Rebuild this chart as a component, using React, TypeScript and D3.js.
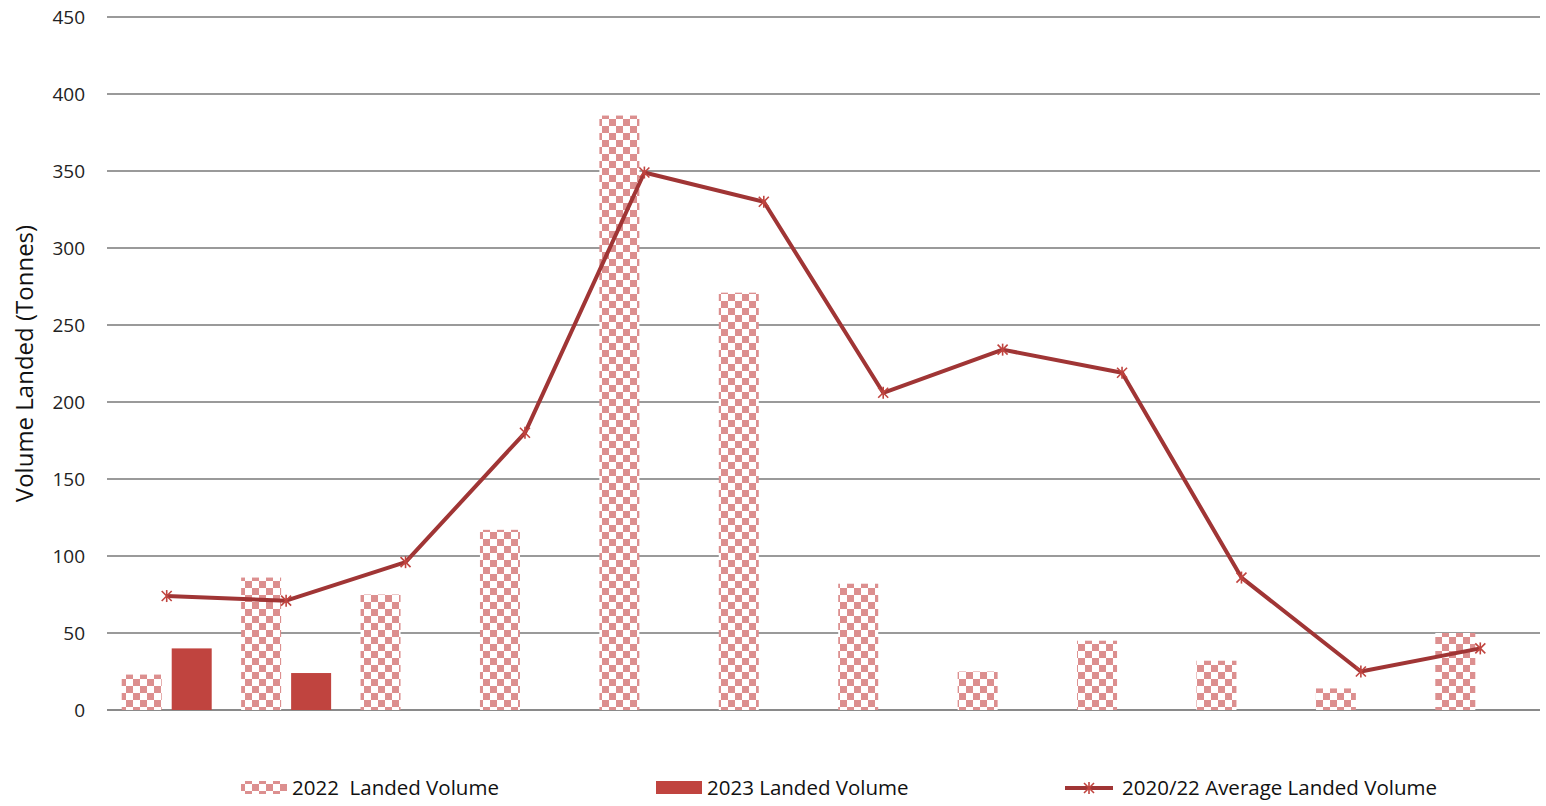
import * as d3 from 'd3';

const months = ['1', '2', '3', '4', '5', '6', '7', '8', '9', '10', '11', '12'];
const landed2022 = [23, 86, 75, 117, 386, 271, 82, 25, 45, 32, 14, 50];
const landed2023: (number | null)[] = [40, 24, null, null, null, null, null, null, null, null, null, null];
const avg2020to22 = [74, 71, 96, 180, 349, 330, 206, 234, 219, 86, 25, 40];
const yTicks = [0, 50, 100, 150, 200, 250, 300, 350, 400, 450];

const W = 1546;
const H = 806;
const margin = { left: 107, right: 6, top: 17, bottom: 96 };

const pink = '#dc8f8f';
const solid = '#c0443f';
const lineColor = '#a03535';
const grid = '#9a9a9a';
const font = "'Open Sans', 'Noto Sans', sans-serif";

function Star({ x, y }: { x: number; y: number }) {
  const r = 5;
  return (
    <g stroke="#c0443f" strokeWidth={1.6}>
      <line x1={x - r} y1={y - r} x2={x + r} y2={y + r} />
      <line x1={x - r} y1={y + r} x2={x + r} y2={y - r} />
      <line x1={x} y1={y - r - 1} x2={x} y2={y + r + 1} />
    </g>
  );
}

export default function App() {
  const x = d3
    .scaleBand<string>()
    .domain(months)
    .range([margin.left, W - margin.right]);
  const y = d3
    .scaleLinear()
    .domain([0, 450])
    .range([H - margin.bottom, margin.top]);

  const bw = 40;
  const center = (m: string) => (x(m) ?? 0) + x.bandwidth() / 2;

  const line = d3
    .line<number>()
    .x((_, i) => center(months[i]))
    .y((d) => y(d));

  return (
    <svg width={W} height={H} style={{ position: 'absolute', left: 0, top: 0 }} fontFamily={font}>
      <defs>
        <pattern id="checker" width={14} height={14} patternUnits="userSpaceOnUse">
          <rect width={14} height={14} fill="#fff" />
          <rect width={7} height={7} fill={pink} />
          <rect x={7} y={7} width={7} height={7} fill={pink} />
        </pattern>
      </defs>

      {/* gridlines + y ticks */}
      {yTicks.map((t) => (
        <g key={t}>
          <line
            x1={margin.left}
            x2={W - margin.right}
            y1={y(t)}
            y2={y(t)}
            stroke={t === 0 ? '#8a8a8a' : grid}
            strokeWidth={2}
          />
          <text x={85} y={y(t)} dy="0.35em" textAnchor="end" fontSize={19} fill="#222">
            {t}
          </text>
        </g>
      ))}

      <text
        transform={`translate(25, ${(y(0) + y(450)) / 2}) rotate(-90)`}
        textAnchor="middle"
        dy="0.35em"
        fontSize={24}
        fill="#111"
      >
        Volume Landed (Tonnes)
      </text>

      {/* 2022 bars */}
      {landed2022.map((v, i) => (
        <rect
          key={`a${i}`}
          x={center(months[i]) - 25 - bw / 2}
          y={y(v)}
          width={bw}
          height={y(0) - y(v)}
          fill="url(#checker)"
        />
      ))}

      {/* 2023 bars */}
      {landed2023.map((v, i) =>
        v == null ? null : (
          <rect
            key={`b${i}`}
            x={center(months[i]) + 25 - bw / 2}
            y={y(v)}
            width={bw}
            height={y(0) - y(v)}
            fill={solid}
          />
        )
      )}

      {/* average line */}
      <path d={line(avg2020to22) ?? ''} fill="none" stroke={lineColor} strokeWidth={4} strokeLinejoin="round" />
      {avg2020to22.map((v, i) => (
        <Star key={`s${i}`} x={center(months[i])} y={y(v)} />
      ))}

      {/* legend */}
      <g fontSize={20.5} fill="#111">
        <rect x={241} y={781} width={46} height={13} fill="url(#checker)" />
        <text x={292} y={788} dy="0.35em" style={{ whiteSpace: 'pre' }}>2022  Landed Volume</text>
        <rect x={656} y={781} width={46} height={13} fill={solid} />
        <text x={707} y={788} dy="0.35em">2023 Landed Volume</text>
        <line x1={1065} x2={1113} y1={788} y2={788} stroke={lineColor} strokeWidth={4} />
        <Star x={1089} y={788} />
        <text x={1122} y={788} dy="0.35em">2020/22 Average Landed Volume</text>
      </g>
    </svg>
  );
}
